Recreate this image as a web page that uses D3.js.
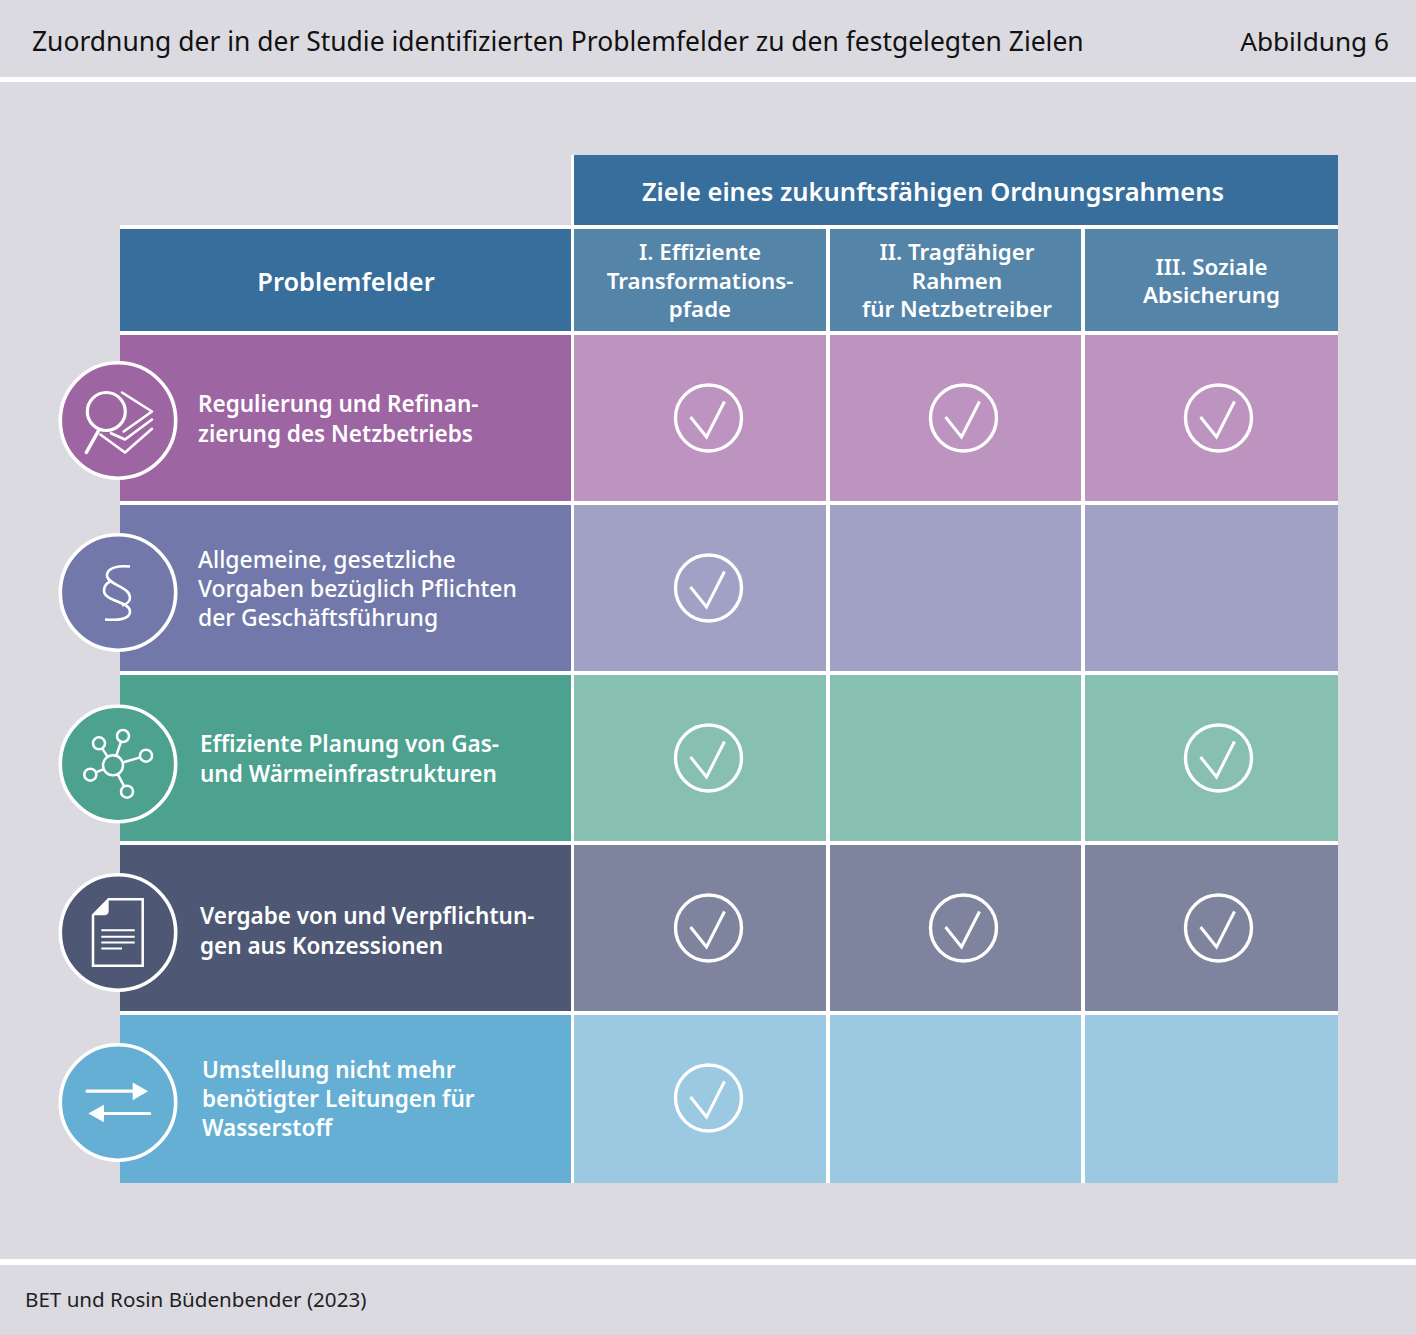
<!DOCTYPE html>
<html>
<head>
<meta charset="utf-8">
<script src="https://cdn.jsdelivr.net/npm/d3@7"></script>
<style>
    html, body { margin: 0; padding: 0; background: #fff; }
    text { font-family: "Noto Sans", sans-serif; }
</style>
</head>
<body>
<svg id="chart" width="1416" height="1335" style="display:block"></svg>
<script>
var title = "Zuordnung der in der Studie identifizierten Problemfelder zu den festgelegten Zielen";
var figureLabel = "Abbildung 6";
var source = "BET und Rosin Büdenbender (2023)";
var goalsTitle = "Ziele eines zukunftsfähigen Ordnungsrahmens";
var problemsTitle = "Problemfelder";

var goals = ["I", "II", "III"];
var goalLabels = [
    ["I. Effiziente", "Transformations-", "pfade"],
    ["II. Tragfähiger", "Rahmen", "für Netzbetreiber"],
    ["III. Soziale", "Absicherung"]
];
var problems = ["regulierung", "vorgaben", "planung", "konzessionen", "umstellung"];
var problemLabels = [
    ["Regulierung und Refinan-", "zierung des Netzbetriebs"],
    ["Allgemeine, gesetzliche", "Vorgaben bezüglich Pflichten", "der Geschäftsführung"],
    ["Effiziente Planung von Gas-", "und Wärmeinfrastrukturen"],
    ["Vergabe von und Verpflichtun-", "gen aus Konzessionen"],
    ["Umstellung nicht mehr", "benötigter Leitungen für", "Wasserstoff"]
];
// 1 = goal is addressed by the problem field
var marks = [
    [1, 1, 1],
    [1, 0, 0],
    [1, 0, 1],
    [1, 1, 1],
    [1, 0, 0]
];
var darkColors = ["#9d65a1", "#7279aa", "#4da18f", "#4e5874", "#66afd4"];
var lightColors = ["#bd94bf", "#a1a1c5", "#87bfb0", "#7f849e", "#9ac9e1"];

var BG = "#dadae0", HEAD = "#376e9c", HEAD_LIGHT = "#5584a9";

var svg = d3.select("#chart");

var x = d3.scaleBand().domain(goals).range([574, 1338]).paddingInner(4 / 256);
var y = d3.scaleBand().domain(problems).range([335, 1181]).paddingInner(4 / 170);

function multiline(g, lines, px, cy, lh) {
    var t = g.append("text").attr("fill", "#fff");
    lines.forEach((l, i) => {
        t.append("tspan")
            .attr("x", px)
            .attr("y", cy + (i - (lines.length - 1) / 2) * lh)
            .attr("dy", "0.35em")
            .text(l);
    });
    return t;
}

// page frame
svg.append("rect").attr("width", 1416).attr("height", 1335).attr("fill", BG);
svg.append("rect").attr("y", 77).attr("width", 1416).attr("height", 5).attr("fill", "#fff");
svg.append("rect").attr("y", 1259).attr("width", 1416).attr("height", 6).attr("fill", "#fff");

svg.append("text").attr("x", 32).attr("y", 51).attr("font-size", 26.45).attr("fill", "#111").text(title);
svg.append("text").attr("x", 1389).attr("y", 51).attr("font-size", 26.2).attr("fill", "#111")
    .attr("text-anchor", "end").text(figureLabel);
svg.append("text").attr("x", 25).attr("y", 1307).attr("font-size", 20.6).attr("fill", "#222").text(source);

// white rules behind the table
svg.append("rect").attr("x", 120).attr("y", 225).attr("width", 1218).attr("height", 958).attr("fill", "#fff");
svg.append("rect").attr("x", 571).attr("y", 155).attr("width", 3).attr("height", 70).attr("fill", "#fff");

// header
var head = svg.append("g");
head.append("rect").attr("x", 574).attr("y", 155).attr("width", 764).attr("height", 70).attr("fill", HEAD);
head.append("rect").attr("x", 120).attr("y", 229).attr("width", 451).attr("height", 102).attr("fill", HEAD);
head.append("text").attr("x", 933).attr("y", 192).attr("dy", "0.35em").attr("text-anchor", "middle")
    .attr("fill", "#fff").attr("font-size", 25.5).attr("font-weight", 600).text(goalsTitle);
head.append("text").attr("x", 346).attr("y", 282).attr("dy", "0.35em").attr("text-anchor", "middle")
    .attr("fill", "#fff").attr("font-size", 25.4).attr("font-weight", 600).text(problemsTitle);

// third column starts a pixel early and the second ends a pixel early in the original
var colX = g => x(g) - (g == "III" ? 1 : 0);
var colW = g => x.bandwidth() + (g == "III" ? 1 : 0) - (g == "II" ? 1 : 0);
var checkDx = [8.5, 8, 7];

goals.forEach((g, i) => {
    head.append("rect").attr("x", colX(g)).attr("y", 229).attr("width", colW(g)).attr("height", 102)
        .attr("fill", HEAD_LIGHT);
    multiline(head, goalLabels[i], colX(g) + colW(g) / 2 + (i == 1 ? 1.5 : 0), 281, 28.5)
        .attr("text-anchor", "middle")
        .attr("font-size", 22.3)
        .attr("font-weight", 600);
});

// rows
var icons = {
    regulierung: function(g) {
        g.append("circle").attr("cx", -11.7).attr("cy", -9).attr("r", 19).attr("stroke-width", 3.2);
        g.append("path").attr("stroke-width", 3.5).attr("stroke-linecap", "round").attr("d", "M-19,9.3L-31.7,32");
        g.append("path").attr("stroke-width", 2.6).attr("stroke-linejoin", "round").attr("stroke-linecap", "round")
            .attr("d", "M4,-28L34,-9L5.7,11M34,-1L7,19L-7,12.7M34,8.3L7,32L-17.7,14");
    },
    vorgaben: function(g) {
        g.append("path").attr("stroke-width", 2.6)
            .attr("d", "M12,-26C0,-27 -11,-25 -11,-17C-11,-8 12,-6 12,5C12,9 8,12 4,13");
        g.append("path").attr("stroke-width", 2.6)
            .attr("d", "M-8,-11C-12,-9 -14,-5 -14,-2C-14,9 12,9 12,19C12,27 0,28 -13,27");
    },
    planung: function(g) {
        var hub = [-5, 1.3], nodes = [[-19, -20.7], [5, -28], [28, -8.3], [-27.7, 10.7], [9, 27.7]];
        g.append("circle").attr("cx", hub[0]).attr("cy", hub[1]).attr("r", 10);
        nodes.forEach(n => {
            var dx = n[0] - hub[0], dy = n[1] - hub[1], d = Math.hypot(dx, dy);
            g.append("circle").attr("cx", n[0]).attr("cy", n[1]).attr("r", 6);
            g.append("line")
                .attr("x1", hub[0] + dx / d * 10).attr("y1", hub[1] + dy / d * 10)
                .attr("x2", n[0] - dx / d * 6).attr("y2", n[1] - dy / d * 6);
        });
    },
    konzessionen: function(g) {
        g.append("path").attr("d", "M-25,-17.3L-9.3,-33.3L24.7,-33.3L24.7,33.3L-25,33.3Z");
        g.append("path").attr("fill", "#fff").attr("stroke", "none")
            .attr("d", "M-25,-17.3L-9.3,-33.3L-9.3,-22Q-9.3,-17.3 -14,-17.3Z");
        g.append("path").attr("stroke-width", 2)
            .attr("d", "M-16.7,-2.3H16.7M-16.7,4.3H16.7M-16.7,10H16.7M-16.7,16H4");
    },
    umstellung: function(g) {
        g.append("path").attr("stroke-width", 3.2).attr("stroke-linecap", "round")
            .attr("d", "M-31,-11.3H15.7M31.7,11H-14");
        g.append("path").attr("fill", "#fff").attr("stroke", "none")
            .attr("d", "M14.7,-20L30,-11.3L14.7,-2.3ZM-14,2.3L-29.7,11L-14,19.7Z");
    }
};
var textX = [198, 198, 200, 200, 202];
var textDy = [1, 1, 1, 3, 1];
var iconDy = [2.5, 4.5, 6, 4.5, 4.5];

problems.forEach((p, i) => {
    var top = y(p), h = y.bandwidth() + (i == 4 ? 2 : 0), mid = y(p) + y.bandwidth() / 2;
    svg.append("rect").attr("x", 120).attr("y", top).attr("width", 451).attr("height", h)
        .attr("fill", darkColors[i]);
    goals.forEach((g, j) => {
        svg.append("rect").attr("x", colX(g)).attr("y", top).attr("width", colW(g)).attr("height", h)
            .attr("fill", lightColors[i]);
        if (marks[i][j]) {
            var c = svg.append("g")
                .attr("transform", "translate(" + (colX(g) + colW(g) / 2 + checkDx[j]) + "," + mid + ")")
                .attr("fill", "none").attr("stroke", "#fff");
            c.append("circle").attr("r", 33).attr("stroke-width", 3.4);
            c.append("path").attr("stroke-width", 3).attr("d", "M-18,-1L-2,19L16,-16.5");
        }
    });
    var ic = svg.append("g").attr("transform", "translate(118," + (mid + iconDy[i]) + ")")
        .attr("fill", "none").attr("stroke", "#fff").attr("stroke-width", 2.5);
    ic.append("circle").attr("r", 57.7).attr("fill", darkColors[i]).attr("stroke-width", 3.6);
    icons[p](ic);
    multiline(svg, problemLabels[i], textX[i], mid + textDy[i], 29.3)
        .attr("font-size", i == 1 ? 22.9 : 22.5)
        .attr("font-weight", i == 1 ? 500 : 600);
});
</script>
</body>
</html>
